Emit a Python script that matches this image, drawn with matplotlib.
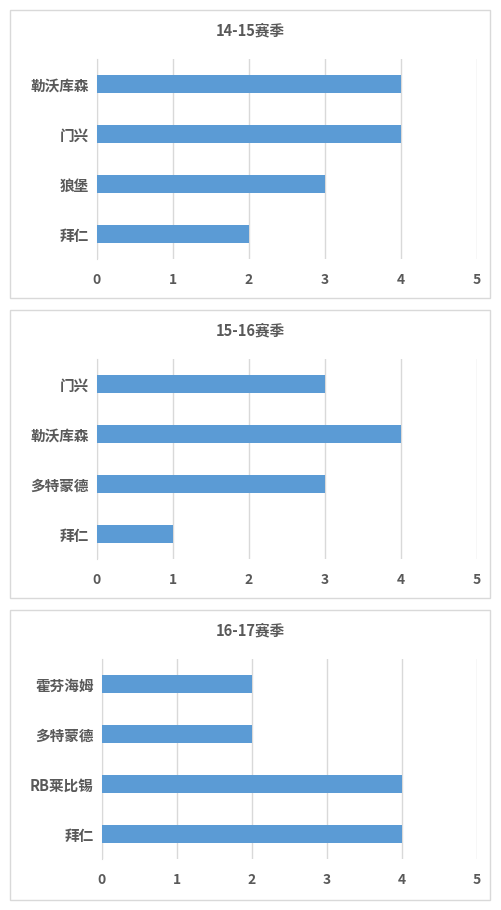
import matplotlib
matplotlib.use("Agg")
import matplotlib.pyplot as plt
from matplotlib.patches import Rectangle

plt.rcParams['font.family'] = ['Noto Sans CJK SC', 'DejaVu Sans']

titles = ["14-15赛季", "15-16赛季", "16-17赛季"]
cats1 = ["拜仁", "狼堡", "门兴", "勒沃库森"]
vals1 = [2, 3, 4, 4]
cats2 = ["拜仁", "多特蒙德", "勒沃库森", "门兴"]
vals2 = [1, 3, 4, 3]
cats3 = ["拜仁", "RB莱比锡", "多特蒙德", "霍芬海姆"]
vals3 = [4, 4, 2, 2]
xticks = [0, 1, 2, 3, 4, 5]

W, H = 502, 910
fig = plt.figure(figsize=(W/100, H/100), dpi=100)
fig.patch.set_facecolor('white')
col = '#595959'
panels = [(10, 298, 97, 59, 259, cats1, vals1),
          (10, 598, 97, 359, 559, cats2, vals2),
          (10, 900, 102, 659, 859, cats3, vals3)]
for i, (top, bot, x0, at, ab, cats, vals) in enumerate(panels):
    top = [10, 310, 610][i]
    fig.patches.append(Rectangle((10/W, 1-bot/H), 480/W, (bot-top)/H,
                                 transform=fig.transFigure, fill=False,
                                 edgecolor='#d9d9d9', lw=1))
    fig.text(250/W, 1-(top+20)/H, titles[i], ha='center', va='center',
             fontsize=10.5, fontweight='bold', color=col)
    ax = fig.add_axes([x0/W, 1-ab/H, (477-x0)/W, (ab-at)/H])
    ax.barh(range(len(cats)), vals, height=0.36, color='#5B9BD5', zorder=3)
    ax.set_yticks(range(len(cats)))
    ax.set_yticklabels(cats, fontsize=10.5, fontweight='bold', color=col)
    ax.set_xticks(xticks)
    ax.set_xticklabels([str(t) for t in xticks], fontsize=10, fontweight='bold', color=col)
    ax.set_xlim(0, 5)
    ax.set_ylim(-0.5, 3.5)
    ax.grid(axis='x', color='#d9d9d9', lw=1, zorder=0)
    for s in ['top', 'right', 'bottom']:
        ax.spines[s].set_visible(False)
    ax.spines['left'].set_color('#d9d9d9')
    ax.tick_params(length=0, pad=6)
    ax.tick_params(axis='x', pad=10)

fig.savefig("out.png", dpi=100)
